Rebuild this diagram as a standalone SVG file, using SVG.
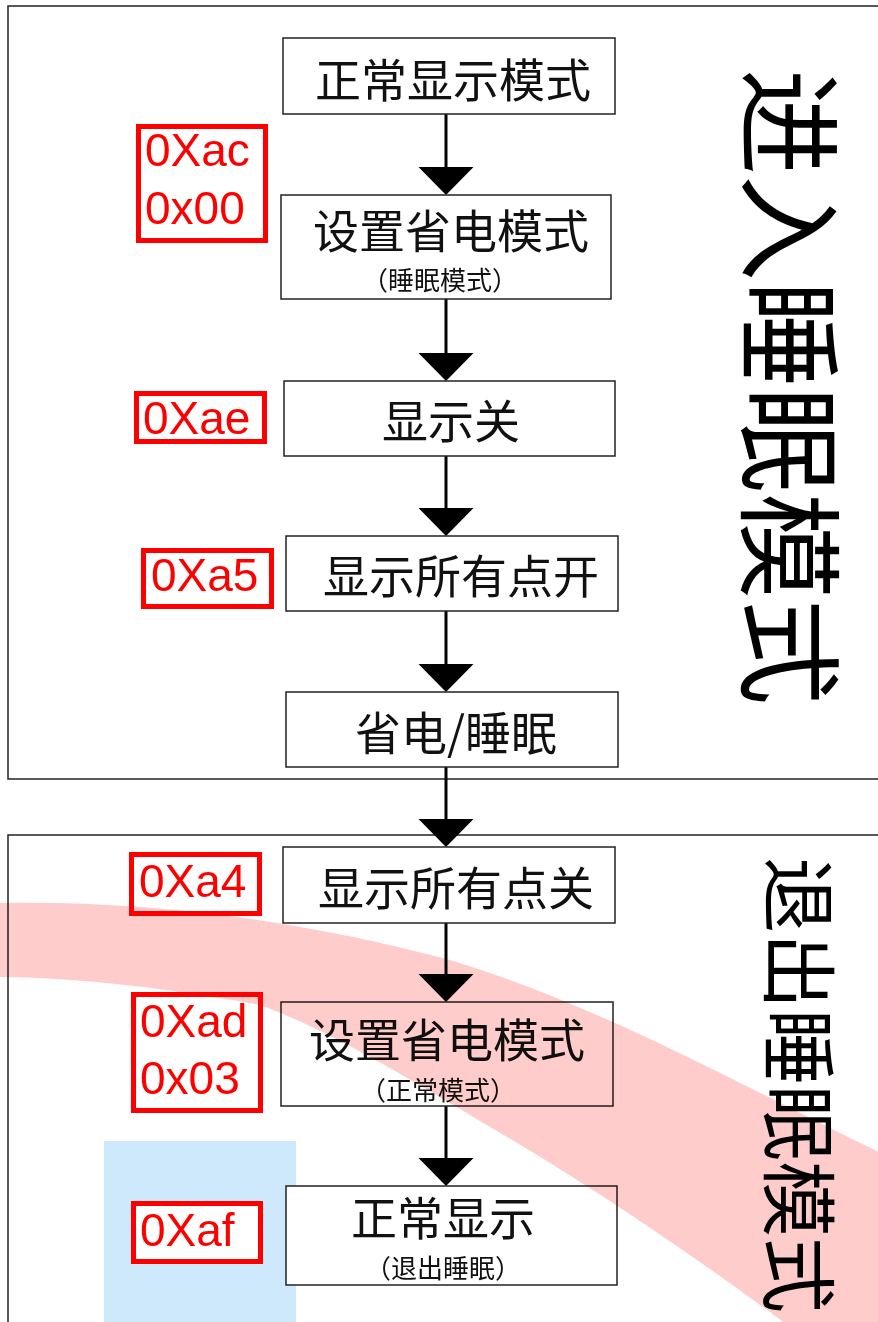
<svg xmlns="http://www.w3.org/2000/svg" width="878" height="1322" viewBox="0 0 878 1322">
<style>
.frame{fill:none;stroke:#222;stroke-width:1.5}
.node rect{fill:#fff;stroke:#222;stroke-width:1.5}
.t{font-family:"Noto Sans CJK SC","Noto Sans CJK JP",sans-serif;fill:#111;text-anchor:middle;dominant-baseline:central}
.big{font-size:46px}
.sub{font-size:26px}
.lbl rect{fill:#fff;stroke:#ff0000;stroke-width:5}
.lbl text{font-family:"Liberation Sans",Arial,sans-serif;font-size:46px;fill:#ff0000}
.vt{font-family:"Noto Sans CJK SC","Noto Sans CJK JP",sans-serif;fill:#000;text-anchor:middle;dominant-baseline:central}
.conn line{stroke:#000;stroke-width:3}
</style>
<defs>
<marker id="ah" markerUnits="userSpaceOnUse" viewBox="0 -28 28 56" refX="8" refY="0" markerWidth="28" markerHeight="56" orient="auto">
<path d="M0,-27.5 L28,0 L0,27.5 z" fill="#000"/>
</marker>
</defs>
<rect width="878" height="1322" fill="#fff"/>
<g id="frames">
<rect class="frame" x="8" y="6" width="880" height="773"/>
<rect class="frame" x="8" y="835" width="880" height="500"/>
</g>
<rect id="highlight-blue" x="104" y="1141" width="192" height="181" fill="#cde9fb"/>
<g id="connectors" class="conn">
<line x1="446" y1="114" x2="446" y2="175" marker-end="url(#ah)"/>
<line x1="446" y1="299" x2="446" y2="361" marker-end="url(#ah)"/>
<line x1="446" y1="456" x2="446" y2="516" marker-end="url(#ah)"/>
<line x1="446" y1="611" x2="446" y2="672" marker-end="url(#ah)"/>
<line x1="446" y1="767" x2="446" y2="827" marker-end="url(#ah)"/>
<line x1="446" y1="923" x2="446" y2="982" marker-end="url(#ah)"/>
<line x1="446" y1="1106" x2="446" y2="1166" marker-end="url(#ah)"/>
</g>
<g id="n1" class="node"><rect x="283" y="38" width="332" height="76"/><text class="t big" x="453" y="77">正常显示模式</text></g>
<g id="n2" class="node"><rect x="281" y="195" width="330" height="104"/><text class="t big" x="451" y="228">设置省电模式</text><text class="t sub" x="440" y="278">（睡眠模式）</text></g>
<g id="n3" class="node"><rect x="284" y="381" width="331" height="75"/><text class="t big" x="451" y="418">显示关</text></g>
<g id="n4" class="node"><rect x="286" y="536" width="332" height="75"/><text class="t big" x="461" y="573">显示所有点开</text></g>
<g id="n5" class="node"><rect x="286" y="692" width="332" height="75"/><text class="t big" x="456" y="730">省电/睡眠</text></g>
<g id="n6" class="node"><rect x="283" y="847" width="332" height="76"/><text class="t big" x="456" y="885">显示所有点关</text></g>
<g id="n7" class="node"><rect x="281" y="1002" width="332" height="104"/><text class="t big" x="447" y="1037">设置省电模式</text><text class="t sub" x="438" y="1088">（正常模式）</text></g>
<g id="n8" class="node"><rect x="286" y="1186" width="331" height="99"/><text class="t big" x="443" y="1215">正常显示</text><text class="t sub" x="443" y="1266">（退出睡眠）</text></g>
<g id="l1" class="lbl"><rect x="138.5" y="126.5" width="127" height="114"/><text x="145" y="166">0Xac</text><text x="145" y="224">0x00</text></g>
<g id="l2" class="lbl"><rect x="136.5" y="393.5" width="128" height="48"/><text x="143" y="434">0Xae</text></g>
<g id="l3" class="lbl"><rect x="143.5" y="550.5" width="128" height="56"/><text x="151" y="591">0Xa5</text></g>
<g id="l4" class="lbl"><rect x="131.5" y="854.5" width="128" height="59"/><text x="139" y="897">0Xa4</text></g>
<g id="l5" class="lbl"><rect x="133.5" y="994.5" width="127" height="116"/><text x="140" y="1037">0Xad</text><text x="140" y="1094">0x03</text></g>
<g id="l6" class="lbl"><rect x="133.5" y="1203.5" width="127" height="58"/><text x="140" y="1246">0Xaf</text></g>
<g id="title-enter"><text class="vt" font-size="106" transform="translate(796,387) rotate(90)">进入睡眠模式</text></g>
<g id="title-exit"><text class="vt" font-size="76" transform="translate(803,1085) rotate(90)">退出睡眠模式</text></g>
<path id="highlight-pink" fill="#ffcccc" style="mix-blend-mode:multiply" d="M-5,903 C150,900 300,920 450,960 C600,1005 750,1090 885,1155 L885,1400 L855,1378 C760,1300 600,1190 490,1127 C420,1085 330,1030 260,1005 C180,990 80,977 -5,977 Z"/>
</svg>
